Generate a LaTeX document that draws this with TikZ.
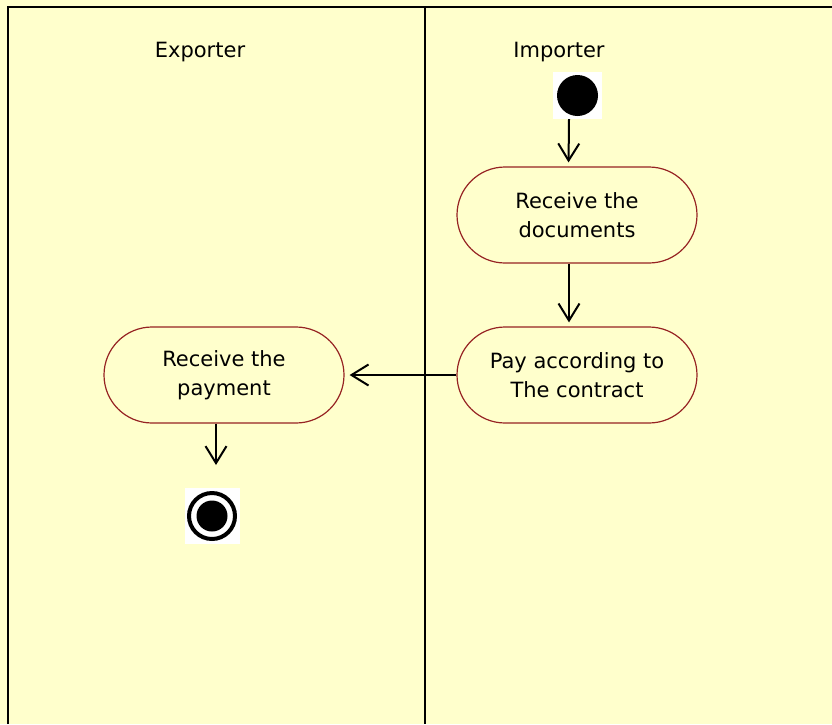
\documentclass[tikz,border=0pt]{standalone}
\usepackage{fontspec}
\setmainfont{DejaVu Sans}
\usepackage{tikz}
\usetikzlibrary{positioning,arrows.meta}
\definecolor{LaneYellow}{RGB}{255,255,204}
\definecolor{ActRed}{RGB}{150,35,35}
\tikzset{
    activity/.style={rectangle, draw=ActRed, fill=LaneYellow, line width=1.2pt, rounded corners=48pt,
        minimum width=240pt, minimum height=96pt, align=center, inner sep=0pt,
        font=\fontsize{21}{29}\selectfont},
    lanetitle/.style={anchor=base, inner sep=0pt, font=\fontsize{21}{29}\selectfont},
    flow/.style={draw=black, line width=2pt, -{Straight Barb[length=17pt, width=21pt, line width=2pt]}},
    lane/.style={draw=black, line width=2.5pt}
}
\begin{document}
\begin{tikzpicture}[x=1pt, y=-1pt]
    % background and swimlanes
    \fill[LaneYellow] (0,0) rectangle (832,724);
    \useasboundingbox (0,0) rectangle (832,724);
    \draw[lane] (8,724) -- (8,7) -- (832,7);
    \draw[lane] (425,7) -- (425,724);

    \node[lanetitle] (exporter) at (200,57) {Exporter};
    \node[lanetitle] (importer) at (559,57) {Importer};

    % start and end
    \node[rectangle, fill=white, minimum width=49pt, minimum height=47pt, inner sep=0pt] (start) at (577.5,95.5) {};
    \fill[black] (start.center) circle (20.5pt);
    \node[rectangle, fill=white, minimum width=55pt, minimum height=56pt, inner sep=0pt] (final) at (212,516) {};
    \draw[black, line width=4pt] (final.center) circle (23pt);
    \fill[black] (final.center) circle (15.5pt);

    % activities
    \node[activity] (docs) at (577,215) {Receive the\\documents};
    \node[activity] (pay) at (577,375) {Pay according to\\The contract};
    \node[activity] (payment) at (224,375) {Receive the\\payment};
    \coordinate (stop) at (216,465);

    \draw[flow, shorten >=4pt] ([xshift=-8.5pt]start.south) -- ([xshift=-8.5pt]docs.north);
    \draw[flow, shorten >=4pt] ([xshift=-8pt]docs.south) -- ([xshift=-8pt]pay.north);
    \draw[flow, shorten >=5pt] (pay.west) -- (payment.east);
    \draw[flow] ([xshift=-8pt]payment.south) -- (stop);
\end{tikzpicture}
\end{document}
